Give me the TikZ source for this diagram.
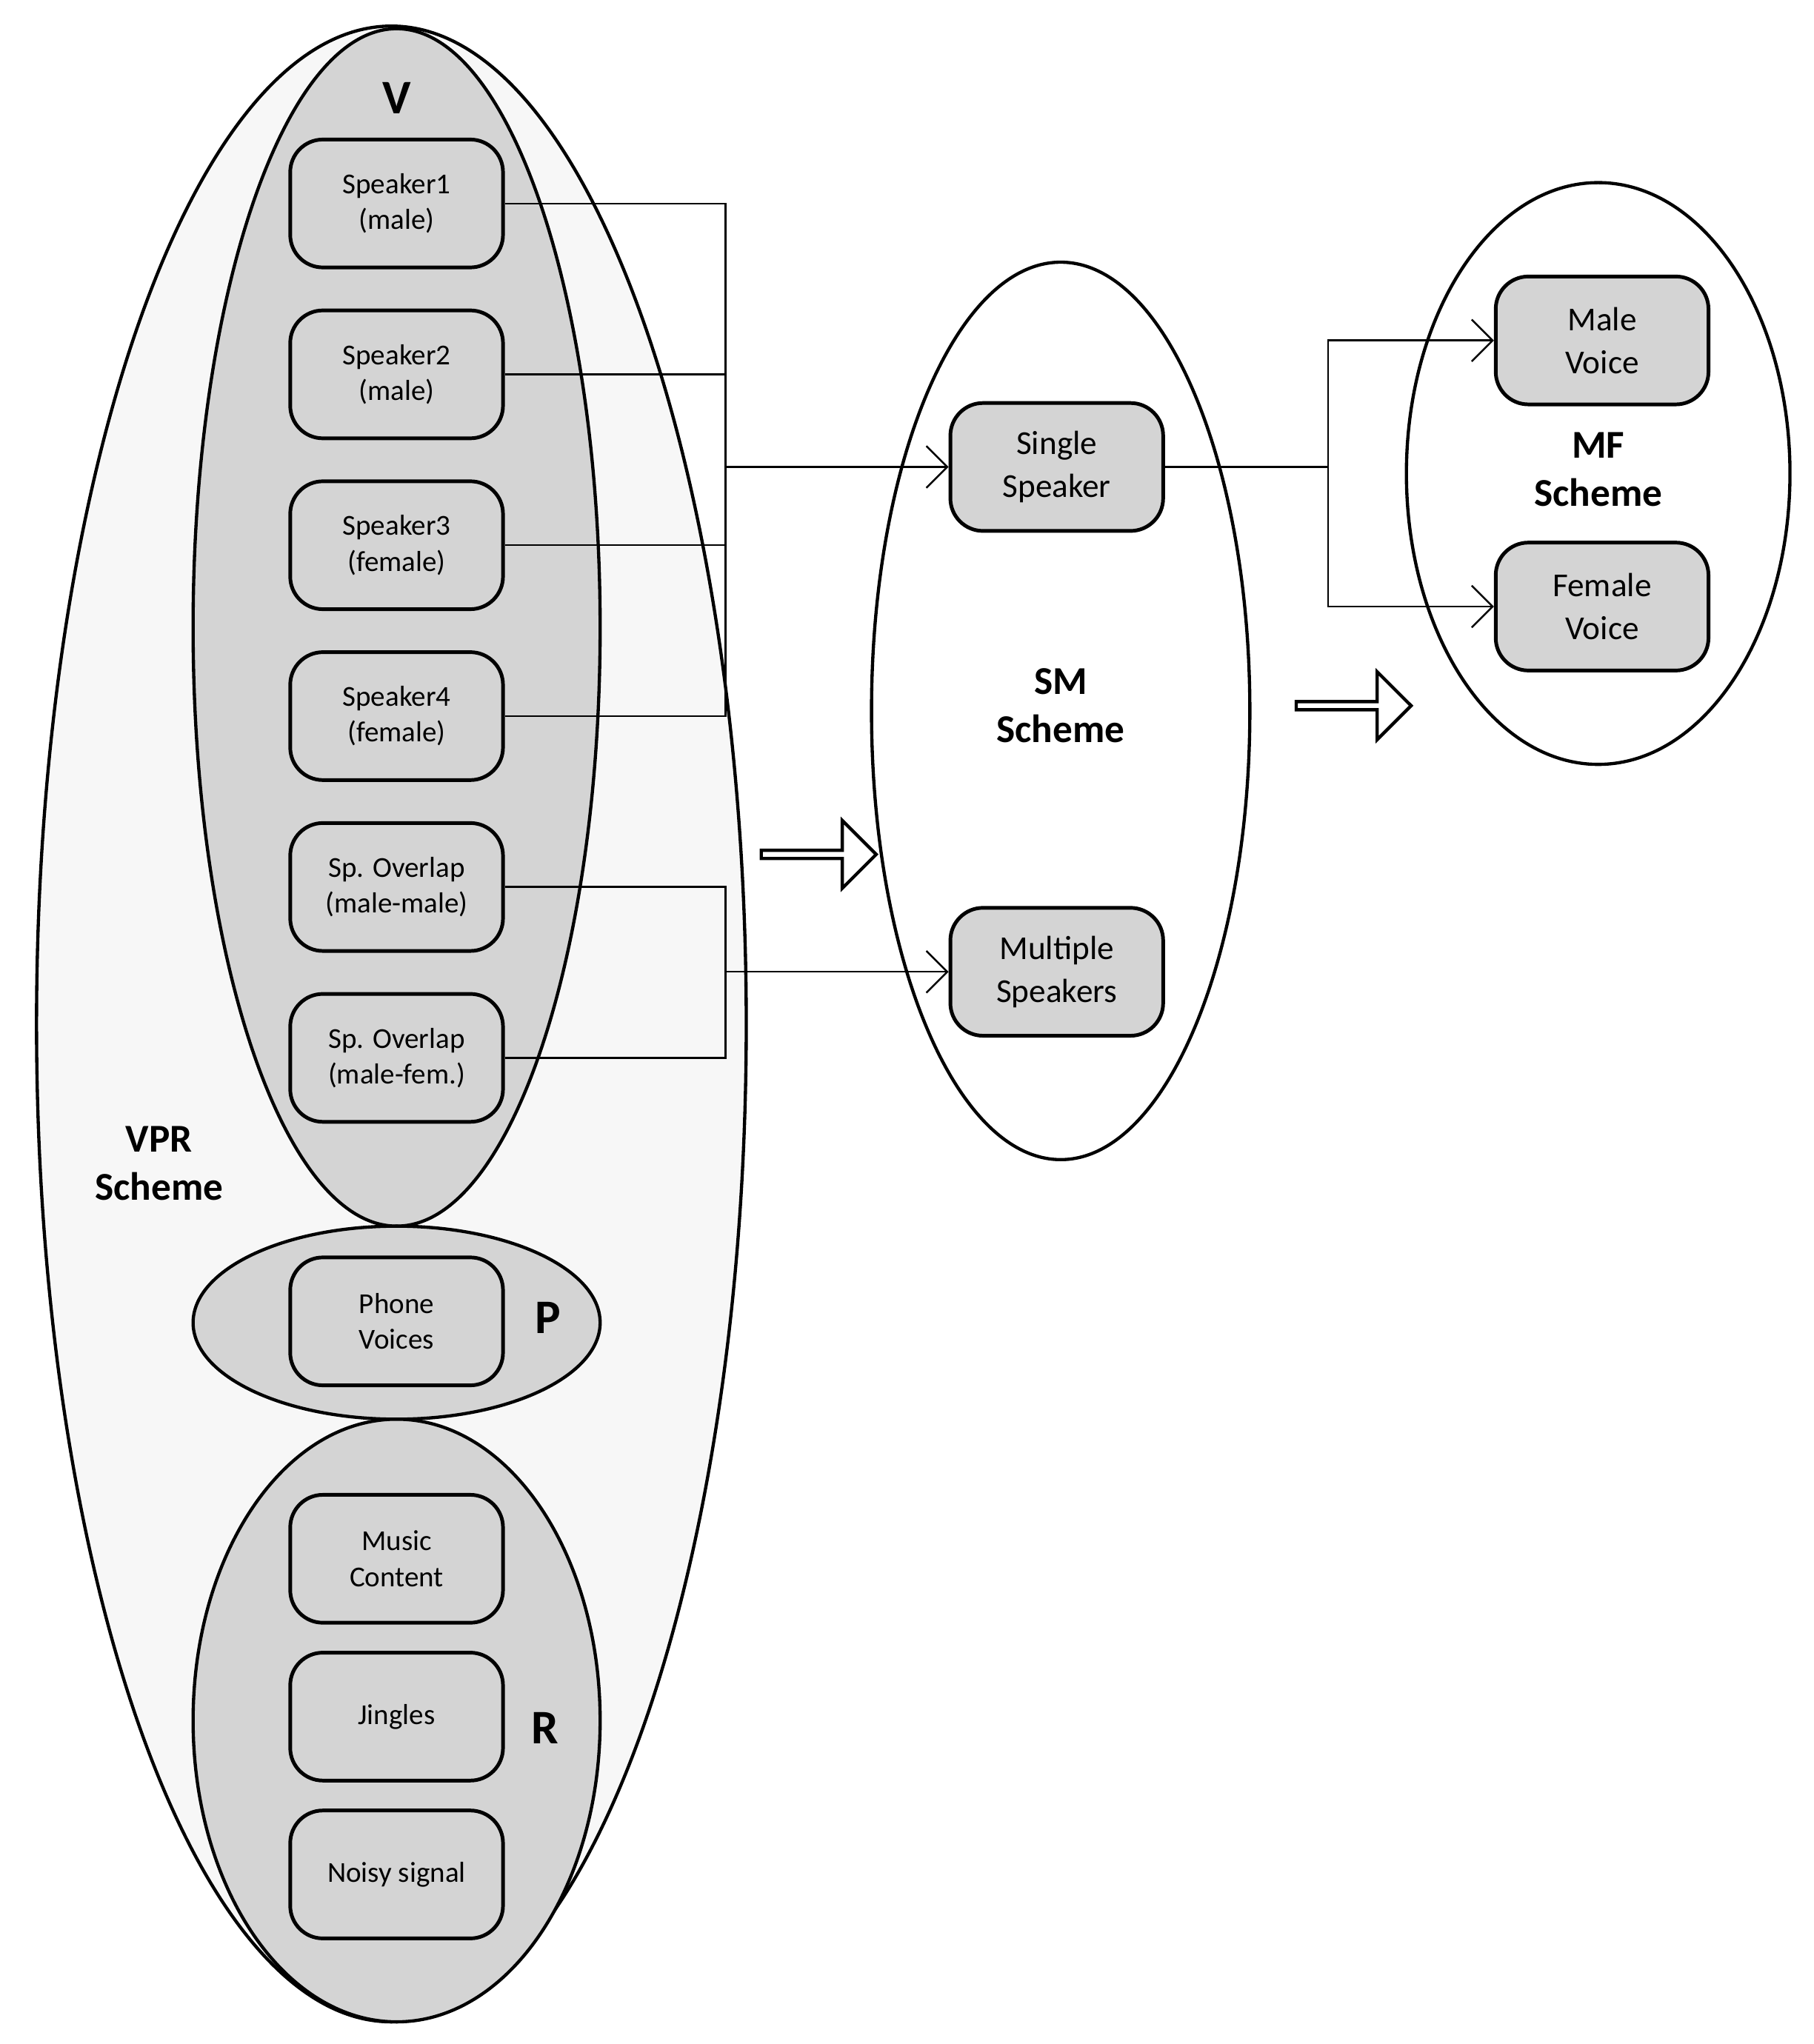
\documentclass[tikz,border=0pt]{standalone}
\usepackage{fontspec}
\setmainfont{Carlito}
\usetikzlibrary{positioning,shapes.arrows,arrows.meta}
\begin{document}
\begin{tikzpicture}[x=0.01cm,y=-0.01cm,
        grp/.style = {ellipse, draw, line width=0.7pt},
        box/.style = {shape=rectangle, draw, rounded corners=2.5mm, fill=black!17,
                      minimum width=1.63cm, minimum height=0.98cm, line width=0.8pt,
                      align=center, font=\fontsize{6.3}{7.8}\selectfont, inner sep=1pt},
        bigbox/.style = {box, font=\fontsize{7.3}{9.3}\selectfont},
        lbl/.style = {align=center, font=\bfseries\fontsize{8.6}{10.5}\selectfont},
        link/.style = {line width=0.4pt},
        fat/.style = {single arrow, draw, line width=0.7pt, minimum height=0.88cm,
                      minimum width=0.52cm, single arrow head extend=0.09cm, inner sep=0pt}]
    \useasboundingbox (0,0) rectangle (1390,1567);
    % VPR scheme
    \draw[line width=0.7pt, fill=black!3] (300,785) ellipse [x radius=272, y radius=765];
    \draw[line width=0.7pt, fill=black!17] (304,481) ellipse [x radius=156, y radius=459];
    \draw[line width=0.7pt, fill=black!17] (304,1014) ellipse [x radius=156, y radius=74];
    \draw[line width=0.7pt, fill=black!17] (304,1319) ellipse [x radius=156, y radius=231];
    \node[lbl, font=\bfseries\fontsize{10.5}{12}\selectfont] (vlabel) at (304,75) {V};
    \node[lbl, font=\bfseries\fontsize{10.5}{12}\selectfont] (plabel) at (420,1010) {P};
    \node[lbl, font=\bfseries\fontsize{10.5}{12}\selectfont] (rlabel) at (418,1325) {R};
    \node[lbl] (vprlabel) at (122,892) {VPR\\Scheme};

    \node[box] (s1) at (304,156) {Speaker1\\(male)};
    \node[box] (s2) at (304,287) {Speaker2\\(male)};
    \node[box] (s3) at (304,418) {Speaker3\\(female)};
    \node[box] (s4) at (304,549) {Speaker4\\(female)};
    \node[box] (o1) at (304,680) {Sp. Overlap\\(male-male)};
    \node[box] (o2) at (304,811) {Sp. Overlap\\(male-fem.)};
    \node[box] (ph) at (304,1013) {Phone\\Voices};
    \node[box] (mu) at (304,1195) {Music\\Content};
    \node[box] (ji) at (304,1316) {Jingles};
    \node[box] (no) at (304,1437) {Noisy signal};

    % SM scheme
    \draw[line width=0.7pt, fill=white] (813,545) ellipse [x radius=145, y radius=344];
    \node[lbl] (smlabel) at (813,541) {SM\\Scheme};
    \node[bigbox] (ss) at (810,358) {Single\\Speaker};
    \node[bigbox] (ms) at (810,745) {Multiple\\Speakers};

    % MF scheme
    \draw[line width=0.7pt, fill=white] (1225,363) ellipse [x radius=147, y radius=223];
    \node[lbl] (mflabel) at (1225,360) {MF\\Scheme};
    \node[bigbox] (mv) at (1228,261) {Male\\Voice};
    \node[bigbox] (fv) at (1228,465) {Female\\Voice};

    % connectors
    \coordinate (bus1) at (556,358);
    \coordinate (bus2) at (556,745);
    \coordinate (bus3) at (1018,358);
    \draw[link] (s1.east) -| (bus1);
    \draw[link] (s2.east) -| (bus1);
    \draw[link] (s3.east) -| (bus1);
    \draw[link] (s4.east) -| (bus1);
    \draw[link, -{Straight Barb[length=1.6mm]}] (bus1) -- (ss.west);
    \draw[link] (o1.east) -| (bus2);
    \draw[link] (o2.east) -| (bus2);
    \draw[link, -{Straight Barb[length=1.6mm]}] (bus2) -- (ms.west);
    \draw[link] (ss.east) -- (bus3);
    \draw[link, -{Straight Barb[length=1.6mm]}] (bus3) |- (mv.west);
    \draw[link, -{Straight Barb[length=1.6mm]}] (bus3) |- (fv.west);

    \node[fat] (f1) at (626,655) {};
    \node[fat] (f2) at (1036,541) {};
\end{tikzpicture}
\end{document}
